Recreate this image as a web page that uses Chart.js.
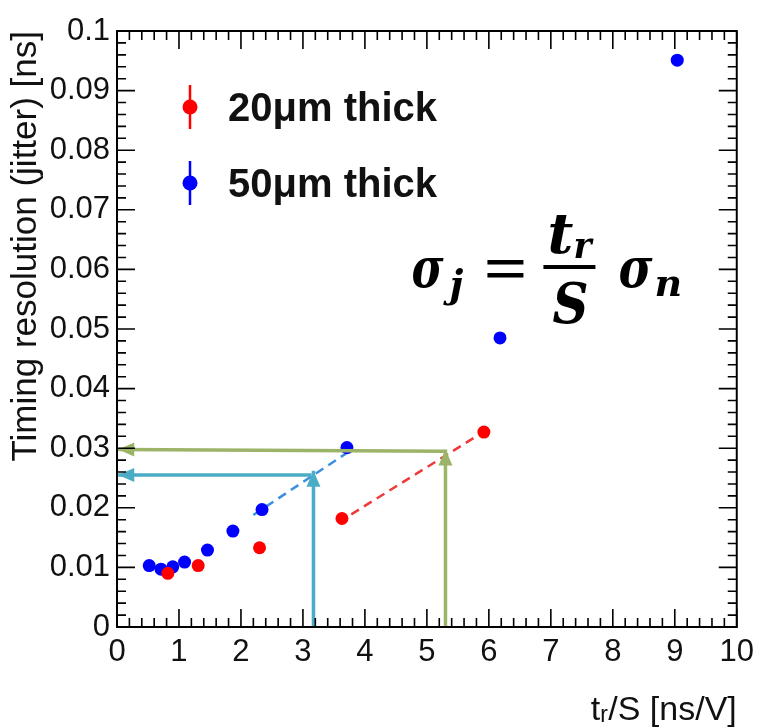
<!DOCTYPE html>
<html>
<head>
<meta charset="utf-8">
<script src="https://cdn.jsdelivr.net/npm/chart.js@4.4.1/dist/chart.umd.min.js"></script>
<style>
  html, body { margin: 0; padding: 0; background: #fff; }
  canvas { display: block; }
</style>
</head>
<body>
<canvas id="chart" width="761" height="728"></canvas>
<script>
// ---- data ----
const seriesLabels = ['20\u03bcm thick', '50\u03bcm thick'];
const seriesColors = ['#ff0000', '#0000ff'];

const xRed = [0.82, 1.31, 2.30, 3.63, 5.92];
const yRed = [0.0090, 0.0103, 0.0133, 0.0182, 0.0327];

const xBlue = [0.52, 0.71, 0.90, 1.09, 1.46, 1.87, 2.34, 3.71, 6.18, 9.04];
const yBlue = [0.0103, 0.0097, 0.0101, 0.0109, 0.0129, 0.0161, 0.0197, 0.0301, 0.0485, 0.0951];

// dashed fits
const xRedFit = [3.78, 5.83];
const yRedFit = [0.0189, 0.0322];
const xBlueFit = [2.20, 3.78];
const yBlueFit = [0.0188, 0.0297];

// guide arrows (last point = arrow tip)
const xCyanUp = [3.17, 3.17];
const yCyanUp = [0, 0.0262];
const xCyanLeft = [3.14, 0.02];
const yCyanLeft = [0.0255, 0.0255];
const xGreenUp = [5.30, 5.30];
const yGreenUp = [0, 0.0298];
const xGreenLeft = [5.28, 0.02];
const yGreenLeft = [0.0295, 0.0298];

const xTicks = [0, 10, 1];       // min, max, step
const yTicks = [0, 0.1, 0.01];

const toPts = (xs, ys) => xs.map((x, i) => ({ x, y: ys[i] }));

const CYAN = '#4bacc6';
const GREEN = '#9cb467';

function arrowSet(xs, ys, color) {
    return {
        type: 'line', data: toPts(xs, ys), showLine: true,
        borderColor: color, borderWidth: 3.5, pointRadius: 0,
        fill: false, order: 0, arrow: true
    };
}

// ---- ROOT-like frame with inward ticks, arrowheads, legend, formula ----
const extras = {
    id: 'extras',
    afterDatasetsDraw(chart) {
        const { ctx, chartArea: a, scales: { x, y } } = chart;
        ctx.save();

        // arrowheads
        chart.data.datasets.forEach((ds, i) => {
            if (!ds.arrow) return;
            const pts = ds.data;
            const p1 = pts[pts.length - 2], p2 = pts[pts.length - 1];
            const x1 = x.getPixelForValue(p1.x), y1 = y.getPixelForValue(p1.y);
            const x2 = x.getPixelForValue(p2.x), y2 = y.getPixelForValue(p2.y);
            const ang = Math.atan2(y2 - y1, x2 - x1);
            const L = 16, W = 7;
            ctx.fillStyle = ds.borderColor;
            ctx.beginPath();
            ctx.moveTo(x2, y2);
            ctx.lineTo(x2 - L * Math.cos(ang) - W * Math.sin(ang), y2 - L * Math.sin(ang) + W * Math.cos(ang));
            ctx.lineTo(x2 - L * Math.cos(ang) + W * Math.sin(ang), y2 - L * Math.sin(ang) - W * Math.cos(ang));
            ctx.closePath();
            ctx.fill();
        });

        // frame
        ctx.strokeStyle = '#000';
        ctx.lineWidth = 2;
        ctx.strokeRect(a.left, a.top, a.right - a.left, a.bottom - a.top);

        // ticks: 10 primary x 5 secondary
        ctx.lineWidth = 1.6;
        ctx.beginPath();
        for (let i = 0; i <= 50; i++) {
            const len = i % 5 === 0 ? 18 : 9;
            const px = x.getPixelForValue(x.min + i * (x.max - x.min) / 50);
            ctx.moveTo(px, a.bottom); ctx.lineTo(px, a.bottom - len);
            ctx.moveTo(px, a.top); ctx.lineTo(px, a.top + len);
            const py = y.getPixelForValue(y.min + i * (y.max - y.min) / 50);
            ctx.moveTo(a.left, py); ctx.lineTo(a.left + len, py);
            ctx.moveTo(a.right, py); ctx.lineTo(a.right - len, py);
        }
        ctx.stroke();

        // legend
        const lx = a.left + 73;
        const rows = [a.top + 76, a.top + 152];
        seriesLabels.forEach((lab, i) => {
            const cy = rows[i];
            ctx.strokeStyle = seriesColors[i];
            ctx.fillStyle = seriesColors[i];
            ctx.lineWidth = 2.5;
            ctx.beginPath();
            ctx.moveTo(lx, cy - 22); ctx.lineTo(lx, cy + 22);
            ctx.stroke();
            ctx.beginPath();
            ctx.arc(lx, cy, 7.5, 0, Math.PI * 2);
            ctx.fill();
            ctx.fillStyle = '#111';
            ctx.font = 'bold 40px "Liberation Sans", Arial, sans-serif';
            ctx.textAlign = 'left';
            ctx.textBaseline = 'middle';
            ctx.fillText(lab, lx + 38, cy + 3);
        });

        // formula  sigma_j = t_r / S  sigma_n
        const fx = x.getPixelForValue(7.30), fy = y.getPixelForValue(0.0604);
        const big = 'italic bold 56px "DejaVu Serif", serif';
        const small = 'italic bold 38px "DejaVu Serif", serif';
        ctx.fillStyle = '#000';
        ctx.textBaseline = 'alphabetic';
        ctx.textAlign = 'center';
        ctx.font = big;
        ctx.fillText('\u03c3', fx - 142, fy + 20, 32);
        ctx.fillText('t', fx - 9, fy - 14, 26);
        ctx.fillText('S', fx + 1, fy + 56, 36);
        ctx.fillText('\u03c3', fx + 66, fy + 20, 34);
        ctx.font = small;
        ctx.fillText('j', fx - 113, fy + 30, 20);
        ctx.fillText('r', fx + 13, fy - 9, 18);
        ctx.fillText('n', fx + 99, fy + 29, 28);
        ctx.fillRect(fx - 82, fy - 7, 36, 4.5);
        ctx.fillRect(fx - 82, fy + 6, 36, 4.5);
        ctx.fillRect(fx - 26, fy - 2, 52, 4);

        ctx.restore();
    }
};

const tickFont = { family: '"Liberation Sans", Arial, sans-serif', size: 31 };

new Chart(document.getElementById('chart'), {
    type: 'scatter',
    data: {
        datasets: [
            { label: seriesLabels[0], data: toPts(xRed, yRed), backgroundColor: seriesColors[0],
              borderWidth: 0, pointRadius: 6.5, order: 1 },
            { label: seriesLabels[1], data: toPts(xBlue, yBlue), backgroundColor: seriesColors[1],
              borderWidth: 0, pointRadius: 6.5, order: 1 },
            { type: 'line', data: toPts(xRedFit, yRedFit), showLine: true, borderColor: '#f03a3a',
              borderWidth: 2.5, borderDash: [9, 6], pointRadius: 0, fill: false, order: 2 },
            { type: 'line', data: toPts(xBlueFit, yBlueFit), showLine: true, borderColor: '#3a8fe0',
              borderWidth: 2.5, borderDash: [9, 6], pointRadius: 0, fill: false, order: 2 },
            arrowSet(xCyanUp, yCyanUp, CYAN),
            arrowSet(xCyanLeft, yCyanLeft, CYAN),
            arrowSet(xGreenUp, yGreenUp, GREEN),
            arrowSet(xGreenLeft, yGreenLeft, GREEN)
        ]
    },
    options: {
        responsive: false,
        animation: false,
        devicePixelRatio: 1,
        layout: { padding: { left: 0, top: 31, right: 18, bottom: 0 } },
        plugins: { legend: { display: false }, tooltip: { enabled: false } },
        scales: {
            x: {
                type: 'linear', min: xTicks[0], max: xTicks[1],
                ticks: { stepSize: xTicks[2], font: tickFont, color: '#111', padding: 7, maxRotation: 0 },
                grid: { display: false, drawTicks: false },
                border: { display: false },
                title: { display: true, text: 't\u1d63/S [ns/V]', align: 'end', color: '#111',
                         font: { family: '"Liberation Sans", Arial, sans-serif', size: 34, lineHeight: 1 },
                         padding: { top: 0, bottom: 0 } },
                afterFit(s) { s.height = 101; }
            },
            y: {
                type: 'linear', min: yTicks[0], max: yTicks[1],
                ticks: { stepSize: yTicks[2], font: tickFont, color: '#111', padding: 7,
                         callback: v => String(parseFloat(v.toFixed(3))) },
                grid: { display: false, drawTicks: false },
                border: { display: false },
                title: { display: true, text: 'Timing resolution (jitter) [ns]', align: 'end', color: '#111',
                         font: { family: '"Liberation Sans", Arial, sans-serif', size: 35 },
                         padding: { top: 5, bottom: 0 } },
                afterFit(s) { s.width = 117; }
            }
        }
    },
    plugins: [extras]
});
</script>
</body>
</html>
